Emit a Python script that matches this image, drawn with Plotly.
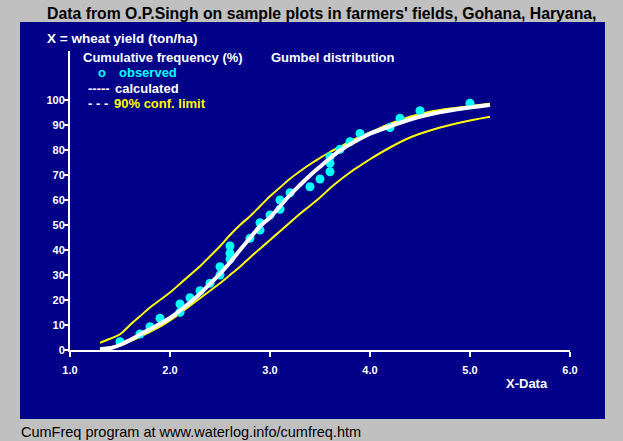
import plotly.graph_objects as go

# ---- data ----
obs_x = [1.50, 1.70, 1.80, 1.90, 2.10, 2.10, 2.20, 2.30, 2.40, 2.50, 2.50, 2.60, 2.60, 2.60,
         2.80, 2.90, 2.90, 3.00, 3.10, 3.10, 3.20, 3.40, 3.50, 3.60, 3.60, 3.60, 3.70, 3.80,
         3.90, 4.20, 4.30, 4.50, 5.00]
obs_y = [3.3, 6.4, 9.3, 12.7, 15.1, 18.4, 20.9, 23.7, 26.7, 30.0, 33.3, 36.3, 38.7, 41.6,
         44.7, 48.0, 50.9, 54.0, 56.3, 60.0, 62.9, 65.3, 68.4, 71.3, 74.7, 77.3, 80.3, 83.3,
         86.6, 89.0, 92.7, 95.7, 98.7]

curve_x = [1.3, 1.4, 1.5, 1.6, 1.7, 1.8, 1.9, 2.0, 2.1, 2.2, 2.3, 2.4, 2.5, 2.6, 2.7, 2.8,
           2.9, 3.0, 3.1, 3.2, 3.3, 3.4, 3.5, 3.6, 3.7, 3.8, 3.9, 4.0, 4.2, 4.4, 4.6, 4.8,
           5.0, 5.2]
calc_y = [0.3, 0.7, 2.0, 4.0, 6.2, 8.3, 10.5, 12.8, 15.8, 19.0, 22.5, 26.5, 30.5, 35.0,
          40.0, 44.8, 49.5, 53.0, 57.5, 62.0, 66.0, 69.8, 73.3, 76.7, 79.8, 82.3, 84.5,
          86.5, 89.5, 92.2, 94.3, 95.8, 97.0, 98.0]
upper_y = [2.9, 4.5, 6.3, 10.0, 13.5, 17.0, 20.0, 23.0, 26.5, 30.0, 33.5, 37.5, 41.5, 46.0,
           50.0, 53.5, 57.5, 61.5, 65.0, 68.5, 71.5, 74.3, 76.8, 79.2, 81.3, 83.4, 85.3,
           87.0, 90.5, 93.3, 95.3, 96.6, 97.6, 98.5]
lower_y = [0.8, 1.1, 2.0, 3.5, 5.3, 7.3, 9.3, 11.8, 14.7, 17.7, 20.7, 23.7, 26.7, 30.0,
           33.3, 37.0, 40.5, 44.0, 47.5, 51.0, 54.5, 57.7, 61.0, 64.7, 68.0, 71.0, 73.7,
           76.3, 81.0, 85.0, 87.8, 90.0, 91.8, 93.3]

x_ticks = [1.0, 2.0, 3.0, 4.0, 5.0, 6.0]
y_ticks = [0, 10, 20, 30, 40, 50, 60, 70, 80, 90, 100]

title_text = "Data from O.P.Singh on sample plots in farmers' fields, Gohana, Haryana,"
subtitle_text = "X = wheat yield (ton/ha)"
footer_text = "CumFreq program at www.waterlog.info/cumfreq.htm"

# ---- layout geometry ----
W_FIG, H_FIG = 623, 441
L, R, T, B = 70, 53, 51, 91
PW = W_FIG - L - R
PH = H_FIG - T - B
BLUE = "#000088"
FONT = "Liberation Sans, Arial, sans-serif"


def fx(px):
    return (px - L) / PW


def fy(py):
    return (H_FIG - B - py) / PH


fig = go.Figure()

fig.add_trace(go.Scatter(x=curve_x, y=upper_y, mode="lines", line=dict(color="#FFFF00", width=2),
                         line_shape="spline", hoverinfo="skip"))
fig.add_trace(go.Scatter(x=curve_x, y=lower_y, mode="lines", line=dict(color="#FFFF00", width=2),
                         line_shape="spline", hoverinfo="skip"))
fig.add_trace(go.Scatter(x=obs_x, y=obs_y, mode="markers",
                         marker=dict(color="#00FFFF", size=9, line=dict(width=0))))
fig.add_trace(go.Scatter(x=curve_x, y=calc_y, mode="lines", line=dict(color="#FFFFFF", width=4),
                         line_shape="spline", hoverinfo="skip"))

# blue panel
fig.add_shape(type="rect", xref="paper", yref="paper", x0=fx(20), x1=fx(605), y0=fy(419), y1=fy(22),
              fillcolor=BLUE, line=dict(width=0), layer="below")

ann = []


def text(s, px, py, size, color, bold=True, xanchor="left"):
    ann.append(dict(text=s, x=fx(px), y=fy(py), xref="paper", yref="paper", showarrow=False,
                    xanchor=xanchor, yanchor="middle",
                    font=dict(family=FONT, size=size, color=color, weight="bold" if bold else "normal")))


text(title_text, 321.5, 13, 15.8, "#000000", xanchor="center")
text(subtitle_text, 45, 38, 13.5, "#FFFFFF")
text("Cumulative frequency (%)", 81, 58, 13, "#FFFFFF")
text("Gumbel distribution", 269, 58, 13, "#FFFFFF")
text("o", 96, 73, 13, "#00FFFF")
text("observed", 117, 73, 13, "#00FFFF")
text("-----", 86, 88, 13, "#FFFFFF")
text("calculated", 113, 88, 13, "#FFFFFF")
text("- - -", 86, 103, 13, "#FFFFFF")
text("90% conf. limit", 112, 103, 13, "#FFFF00")
text("X-Data", 527, 383, 13, "#FFFFFF", xanchor="center")
text(footer_text, 19, 432, 14.5, "#000000", bold=False)

fig.update_layout(
    width=W_FIG, height=H_FIG,
    margin=dict(l=L, r=R, t=T, b=B, pad=0),
    paper_bgcolor="#C0C0C0", plot_bgcolor=BLUE,
    showlegend=False,
    annotations=ann,
    xaxis=dict(range=[1, 6], tickvals=x_ticks, ticktext=[f"{v:.1f}" for v in x_ticks],
               showgrid=False, zeroline=False, showline=True, linecolor="#FFFFFF", linewidth=2,
               ticks="outside", ticklen=5, tickwidth=2, tickcolor="#FFFFFF",
               tickfont=dict(family=FONT, size=11, color="#FFFFFF", weight="bold"),
               ticklabelstandoff=4),
    yaxis=dict(range=[0, PH / 2.5], tickvals=y_ticks, showgrid=False, zeroline=False,
               showline=True, linecolor="#FFFFFF", linewidth=2,
               ticks="outside", ticklen=4, tickwidth=2, tickcolor="#FFFFFF",
               tickfont=dict(family=FONT, size=11, color="#FFFFFF", weight="bold"),
               ticklabelstandoff=-3),
)

fig.write_html("out.html", config={"displayModeBar": False},
               post_script="document.body.style.margin='0px';document.body.style.background='#C0C0C0';")
